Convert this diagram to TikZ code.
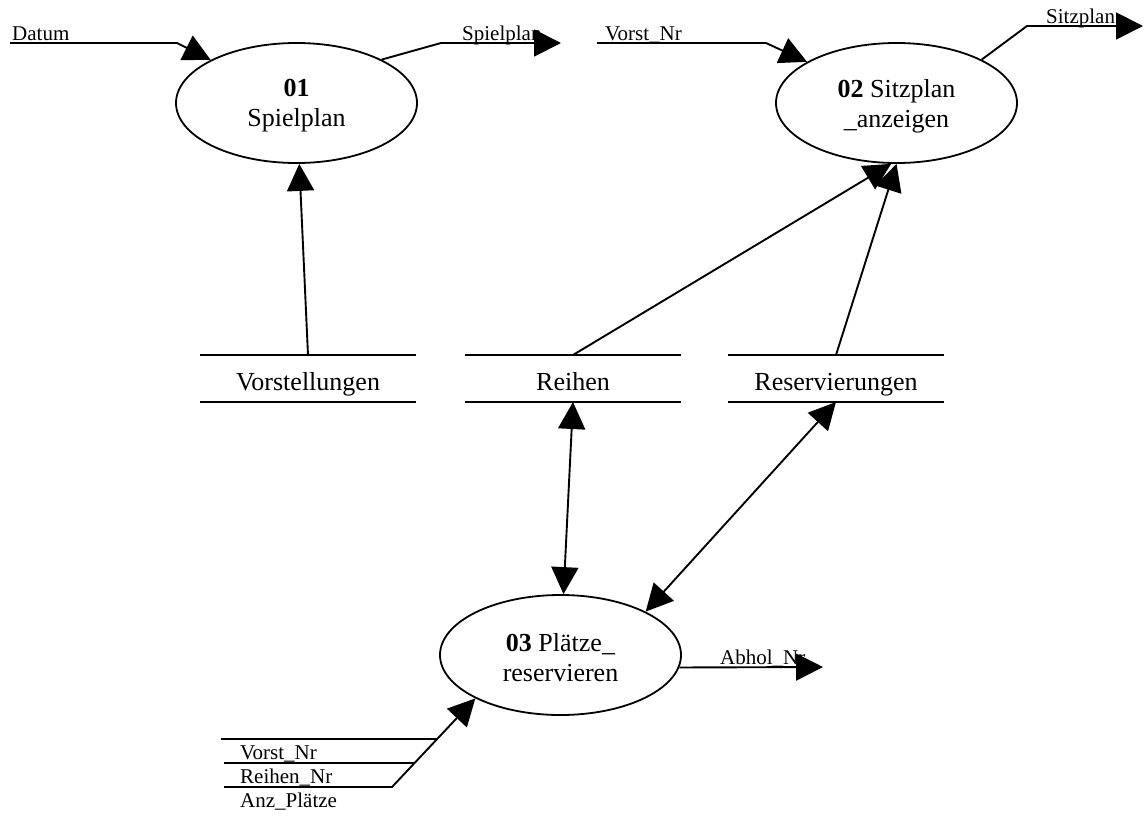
\documentclass[tikz,border=0pt]{standalone}
\usepackage{fontspec}
\setmainfont{Liberation Serif}
\usetikzlibrary{shapes.geometric,arrows.meta}
\newcommand\procfont{\fontsize{26}{30}\selectfont}
\newcommand\lblfont{\fontsize{21}{24}\selectfont}
\begin{document}
\begin{tikzpicture}[x=1pt,y=-1pt,
  proc/.style={ellipse,draw,line width=1.8pt,minimum width=241pt,minimum height=120pt,inner sep=0pt},
  proctext/.style={align=center,font=\procfont,inner sep=0pt,yshift=-3pt},
  store/.style={minimum width=216pt,minimum height=47pt,inner sep=0pt,outer sep=0pt,font=\procfont,text height=25pt,text depth=2pt},
  storeline/.style={line width=2.2pt},
  flow/.style={line width=1.9pt,-{Triangle[length=27pt,width=27pt]}},
  bflow/.style={line width=1.9pt,{Triangle[length=27pt,width=27pt]}-{Triangle[length=27pt,width=27pt]}},
  plain/.style={line width=1.9pt},
  lbl/.style={anchor=base west,inner sep=0pt,font=\lblfont}]
\useasboundingbox (0,0) rectangle (1144,817);

% processes
\node[proc,label={[proctext]center:{\textbf{01}\\Spielplan}}] (p1) at (296.5,103) {};
\node[proc,label={[proctext]center:{\textbf{02} Sitzplan\\\_anzeigen}}] (p2) at (896.5,103) {};
\node[proc,label={[proctext]center:{\textbf{03} Plätze\_\\reservieren}}] (p3) at (560.5,655) {};

% stores
\node[store] (s1) at (308,378.5) {Vorstellungen};
\node[store] (s2) at (573,378.5) {Reihen};
\node[store] (s3) at (836,378.5) {Reservierungen};
\foreach \s in {s1,s2,s3}
  \draw[storeline] (\s.north west) -- (\s.north east) (\s.south west) -- (\s.south east);

% labels
\node[lbl] (ldatum) at (12,40) {Datum};
\node[lbl] (lspiel) at (462,40) {Spielplan};
\node[lbl] (lvorst) at (604,40) {\kern1pt Vorst\_Nr};
\node[lbl] (lsitz) at (1046,23) {Sitzplan};
\node[lbl] (labhol) at (720,664) {Abhol\_Nr};
\node[lbl] (lv2) at (240,759) {Vorst\_Nr};
\node[lbl] (lr2) at (240,783) {Reihen\_Nr};
\node[lbl] (la2) at (240,807) {Anz\_Plätze};

% coordinates
\coordinate (dA) at (10,43);
\coordinate (dB) at (177,43);
\coordinate (spB) at (441,43);
\coordinate (spE) at (561,43);
\coordinate (vA) at (597,43);
\coordinate (vB) at (766,43);
\coordinate (szB) at (1027,26);
\coordinate (szE) at (1143,26);
\coordinate (abE) at (823,667);
\coordinate (i1) at (221,739);
\coordinate (i1e) at (437,739);
\coordinate (i2) at (224,763);
\coordinate (i2e) at (415,763);
\coordinate (i3) at (224,787);
\coordinate (i3e) at (392,787);

% flows
\draw[flow] (dA) -- (dB) -- (p1);
\draw[flow] (p1.27) -- (spB) -- (spE);
\draw[flow] (vA) -- (vB) -- (p2);
\draw[flow] (p2.27) -- (szB) -- (szE);
\draw[flow] (s1.north) -- (p1);
\draw[flow] (s2.north) -- (p2.265);
\draw[flow] (s3.north) -- (p2.south);
\draw[bflow] (s2.south) -- (p3);
\draw[bflow] (s3.south) -- (p3.27);
\draw[flow] (p3.-6) -- (abE);
\draw[plain] (i1) -- (i1e);
\draw[plain] (i2) -- (i2e);
\draw[flow] (i3) -- (i3e) -- (p3.207);
\end{tikzpicture}
\end{document}
